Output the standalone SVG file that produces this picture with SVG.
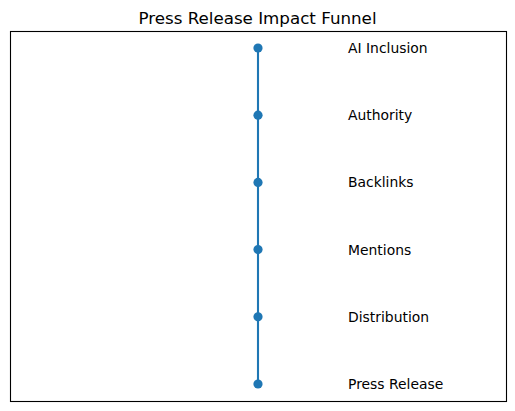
<svg xmlns="http://www.w3.org/2000/svg" width="515" height="411" viewBox="0 0 515 411">
<style>
.lbl{font-family:"DejaVu Sans",sans-serif;font-size:13.9px;fill:#000}
.title{font-family:"DejaVu Sans",sans-serif;font-size:16.7px;fill:#000}
.pt{fill:#1f77b4}
</style>
<rect width="515" height="411" fill="#fff"/>
<text class="title" x="257.5" y="24" text-anchor="middle">Press Release Impact Funnel</text>
<rect x="10.5" y="31.5" width="496" height="370" fill="none" stroke="#000" stroke-width="1.1"/>
<g id="connectors">
<line x1="258" y1="48" x2="258" y2="384" stroke="#1f77b4" stroke-width="2.1"/>
</g>
<g id="n-ai"><circle class="pt" cx="258" cy="48" r="4.6"/><text class="lbl" x="348" y="53">AI Inclusion</text></g>
<g id="n-authority"><circle class="pt" cx="258" cy="115.2" r="4.6"/><text class="lbl" x="348" y="120.2">Authority</text></g>
<g id="n-backlinks"><circle class="pt" cx="258" cy="182.4" r="4.6"/><text class="lbl" x="348" y="187.4">Backlinks</text></g>
<g id="n-mentions"><circle class="pt" cx="258" cy="249.6" r="4.6"/><text class="lbl" x="348" y="254.6">Mentions</text></g>
<g id="n-distribution"><circle class="pt" cx="258" cy="316.8" r="4.6"/><text class="lbl" x="348" y="321.8">Distribution</text></g>
<g id="n-press"><circle class="pt" cx="258" cy="384" r="4.6"/><text class="lbl" x="348" y="389">Press Release</text></g>
</svg>
